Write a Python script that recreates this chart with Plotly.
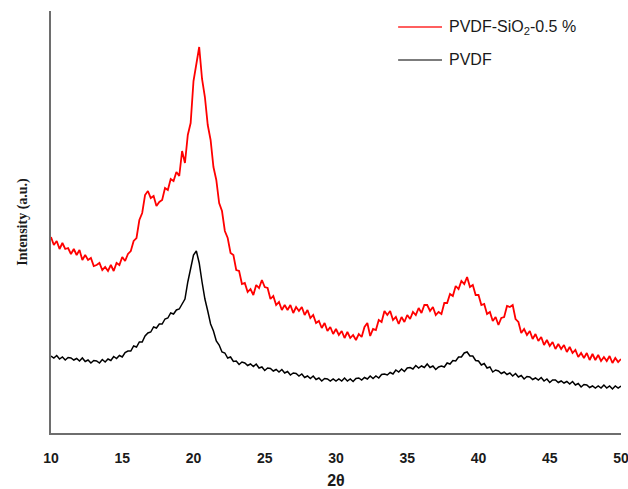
import plotly.graph_objects as go

# 2-theta grid (degrees), 0.2 deg step from 10 to 50
two_theta = [round(10 + 0.2 * i, 1) for i in range(201)]

# PVDF-SiO2-0.5 % diffraction intensity (a.u.)
pvdf_sio2 = [
    196, 188, 192, 184, 190, 184, 185, 179, 184, 178,
    183, 173, 178, 173, 175, 167, 168, 170, 163, 166,
    162, 168, 162, 170, 168, 176, 172, 179, 182, 192,
    195, 213, 220, 238, 242, 235, 237, 227, 231, 233,
    245, 243, 254, 252, 261, 257, 282, 270, 298, 310,
    352, 370, 386, 354, 336, 308, 293, 266, 253, 230,
    222, 202, 195, 180, 178, 163, 162, 149, 150, 141,
    144, 138, 148, 145, 153, 146, 145, 134, 137, 128,
    131, 123, 128, 123, 128, 120, 126, 122, 126, 118,
    123, 115, 118, 110, 112, 105, 110, 102, 106, 99,
    104, 98, 102, 95, 101, 95, 98, 93, 99, 96,
    106, 110, 97, 104, 103, 113, 111, 122, 118, 122,
    113, 116, 109, 116, 111, 118, 114, 121, 118, 125,
    120, 128, 128, 122, 126, 118, 121, 119, 130, 130,
    139, 137, 147, 144, 152, 149, 156, 146, 148, 138,
    138, 128, 129, 119, 121, 112, 116, 108, 115, 116,
    127, 126, 128, 114, 111, 100, 104, 98, 102, 94,
    99, 92, 96, 88, 93, 87, 91, 84, 89, 84,
    88, 81, 86, 80, 83, 76, 80, 75, 80, 73,
    79, 73, 78, 72, 76, 72, 77, 70, 75, 71, 74,
]

# Neat PVDF diffraction intensity (a.u.)
pvdf = [
    77, 75, 77.5, 74, 76, 73, 75.5, 75, 73, 74.5,
    72, 75, 71.5, 73, 70, 72.5, 72, 70, 73.5, 71,
    74, 72.5, 76.5, 74.5, 77.5, 76, 80.5, 82, 82, 87,
    86, 91, 91, 97, 100, 101, 106, 105, 109, 109,
    114, 115, 120, 119, 123, 124, 129, 134, 151, 166,
    178, 182, 170, 151, 134, 122, 109, 102, 92, 88,
    81, 80, 75, 76, 71.5, 72, 68.5, 71, 70, 67.5,
    69, 66.5, 69, 65, 66, 62.5, 65, 64.5, 62, 63.5,
    61, 63.5, 60, 61.5, 58, 60, 59.5, 57, 59, 55.5,
    57, 54.5, 57, 53.5, 55, 52, 54.5, 54, 52, 54,
    52, 54, 52, 55, 52, 54, 51.5, 54.5, 55, 53,
    55.5, 54, 57, 54.5, 57, 55, 58.5, 59, 58, 60.5,
    59, 63, 61, 64, 61.5, 65, 65.5, 64, 67.5, 65,
    67, 65.5, 69, 65.5, 67, 63.5, 66, 67, 66, 70,
    69, 72.5, 72, 76, 76, 80, 81, 77, 77, 72.5,
    72, 68, 69.5, 65, 66, 61, 63, 62, 59.5, 61,
    58.5, 60, 57, 59.5, 56, 57.5, 54, 56.5, 56, 53.5,
    55, 53, 55.5, 52, 54, 50.5, 53, 53, 50.5, 52,
    50, 51.5, 49, 51.5, 48, 49.5, 46, 48.5, 48, 45.5,
    47, 45, 47, 45, 48, 45, 47, 44, 47, 45, 47,
]

series_names = ["PVDF-SiO<sub>2</sub>-0.5 %", "PVDF"]
series_colors = ["#ff0000", "#000000"]
series_widths = [1.8, 1.5]
legend_swatch = ["#ff2a2a", "#505050"]
x_ticks = [10, 15, 20, 25, 30, 35, 40, 45, 50]

fig = go.Figure()
for ys, name, col, w in zip([pvdf_sio2, pvdf], series_names, series_colors, series_widths):
    fig.add_trace(go.Scatter(x=two_theta, y=ys, mode="lines",
                             line=dict(color=col, width=w),
                             name=name, showlegend=False))

# Legend drawn in paper coordinates
legend_y = [0.962, 0.884]
for name, col, ly in zip(series_names, legend_swatch, legend_y):
    fig.add_shape(type="line", xref="paper", yref="paper",
                  x0=0.609, x1=0.686, y0=ly, y1=ly,
                  line=dict(color=col, width=1.5))
    fig.add_annotation(xref="paper", yref="paper", x=0.694, y=ly,
                       text=name, showarrow=False, xanchor="left",
                       yanchor="middle",
                       font=dict(family="Liberation Sans, Arial", size=16,
                                 color="#1a1a1a"))

tick_font = "Liberation Sans, Arial"
fig.update_layout(
    width=628, height=489,
    margin=dict(l=51, r=7, t=11, b=56),
    paper_bgcolor="white", plot_bgcolor="white",
    showlegend=False,
    xaxis=dict(
        range=[10, 50], tickvals=x_ticks,
        ticktext=[f"<b>{t}</b>" for t in x_ticks],
        showgrid=False, zeroline=False, automargin=False,
        showline=True, linecolor="#6e6e6e", linewidth=2,
        ticks="", ticklabelstandoff=11, ticklabeloverflow="allow",
        tickfont=dict(family=tick_font, size=14, color="#1a1a1a"),
        title=dict(text="<b>2θ</b>", standoff=11,
                   font=dict(family=tick_font, size=16, color="#1a1a1a")),
    ),
    yaxis=dict(
        range=[0, 422], showticklabels=False, ticks="",
        showgrid=False, zeroline=False, automargin=False,
        showline=True, linecolor="#6e6e6e", linewidth=2,
        title=dict(text="<b>Intensity (a.u.)</b>", standoff=18,
                   font=dict(family="Liberation Serif, Times New Roman", size=14,
                             color="#1a1a1a")),
    ),
)

fig.write_html("out.html")
